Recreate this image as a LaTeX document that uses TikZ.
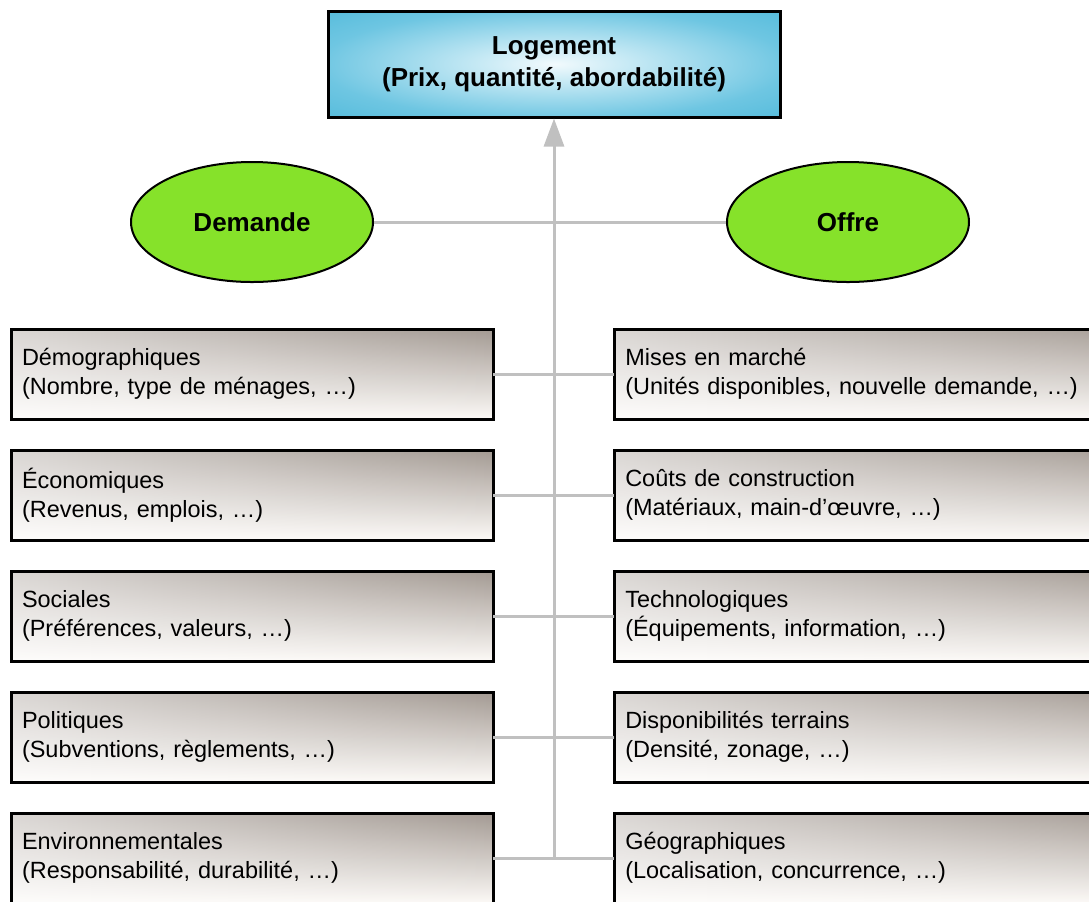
\documentclass[tikz,border=0pt]{standalone}
\usepackage{fontspec}
\setmainfont{Liberation Sans}
\usetikzlibrary{arrows.meta,shapes.geometric,fadings}
\definecolor{linegray}{HTML}{C0C0C0}
\definecolor{cyanedge}{HTML}{5BBEDD}
\definecolor{cyanside}{HTML}{6EC6E2}
\definecolor{cyanlight}{HTML}{C8EAF5}
\definecolor{cyanmid}{HTML}{F2FAFD}
\definecolor{ovalgreen}{HTML}{86E22A}
\definecolor{boxdark}{HTML}{A39A93}
\definecolor{boxlight}{HTML}{FCF9F6}
\pgfdeclareradialshading{glow}{\pgfpoint{0bp}{0bp}}{%
  color(0bp)=(cyanmid); color(8bp)=(cyanlight); color(26bp)=(cyanside);
  color(34bp)=(cyanedge); color(50bp)=(cyanedge)}
\tikzset{
  factor/.style={rectangle, text width=345pt,
    inner xsep=8.25pt, inner ysep=0pt, minimum height=67.5pt, align=left,
    font=\fontsize{17.6}{21.75}\selectfont,
    shading=axis, top color=boxdark, bottom color=boxlight,
    postaction={fill=white, fill opacity=0.6, path fading=east},
    postaction={draw=black, line width=2.25pt}},
  factorR/.style={factor, text width=400pt},
  oval/.style={ellipse, draw=black, line width=1.5pt, fill=ovalgreen,
    minimum width=181.5pt, minimum height=90pt, inner sep=0pt,
    font=\fontsize{19.5}{24}\selectfont\bfseries},
  mainbox/.style={draw=black, line width=2.25pt, rectangle, minimum width=339pt,
    minimum height=79.5pt, align=center, inner sep=0pt,
    font=\fontsize{19.5}{24}\selectfont\bfseries, shading=glow},
  link/.style={draw=linegray, line width=2.25pt},
  uparrow/.style={link, -{Triangle[length=21pt,width=15pt]}}
}
\begin{document}
\begin{tikzpicture}[x=0.75pt,y=-0.75pt]
\path[use as bounding box, clip] (0,0) rectangle (1089,901);

\node[mainbox] (log) at (554,64) {Logement\\(Prix, quantité, abordabilité)};
\node[oval] (dem) at (252,222) {Demande};
\node[oval] (off) at (848,222) {Offre};

\node[factor] (l1) at (252,374) {Démographiques\\(Nombre, type de ménages, …)};
\node[factor] (l2) at (252,495) {Économiques\\(Revenus, emplois, …)};
\node[factor] (l3) at (252,616) {Sociales\\(Préférences, valeurs, …)};
\node[factor] (l4) at (252,737) {Politiques\\(Subventions, règlements, …)};
\node[factor] (l5) at (252,858) {Environnementales\\(Responsabilité, durabilité, …)};

\node[factorR, anchor=west] (r1) at (614,374) {Mises en marché\\(Unités disponibles, nouvelle demande, …)};
\node[factorR, anchor=west] (r2) at (614,495) {Coûts de construction\\(Matériaux, main-d’œuvre, …)};
\node[factorR, anchor=west] (r3) at (614,616) {Technologiques\\(Équipements, information, …)};
\node[factorR, anchor=west] (r4) at (614,737) {Disponibilités terrains\\(Densité, zonage, …)};
\node[factorR, anchor=west] (r5) at (614,858) {Géographiques\\(Localisation, concurrence, …)};

\coordinate (base) at (554,858);

\draw[link] (dem.east) -- (off.west);
\foreach \i in {1,...,5} {\draw[link] (l\i.east) -- (r\i.west);}
\draw[uparrow] (base) -- (log.south);
\end{tikzpicture}
\end{document}
